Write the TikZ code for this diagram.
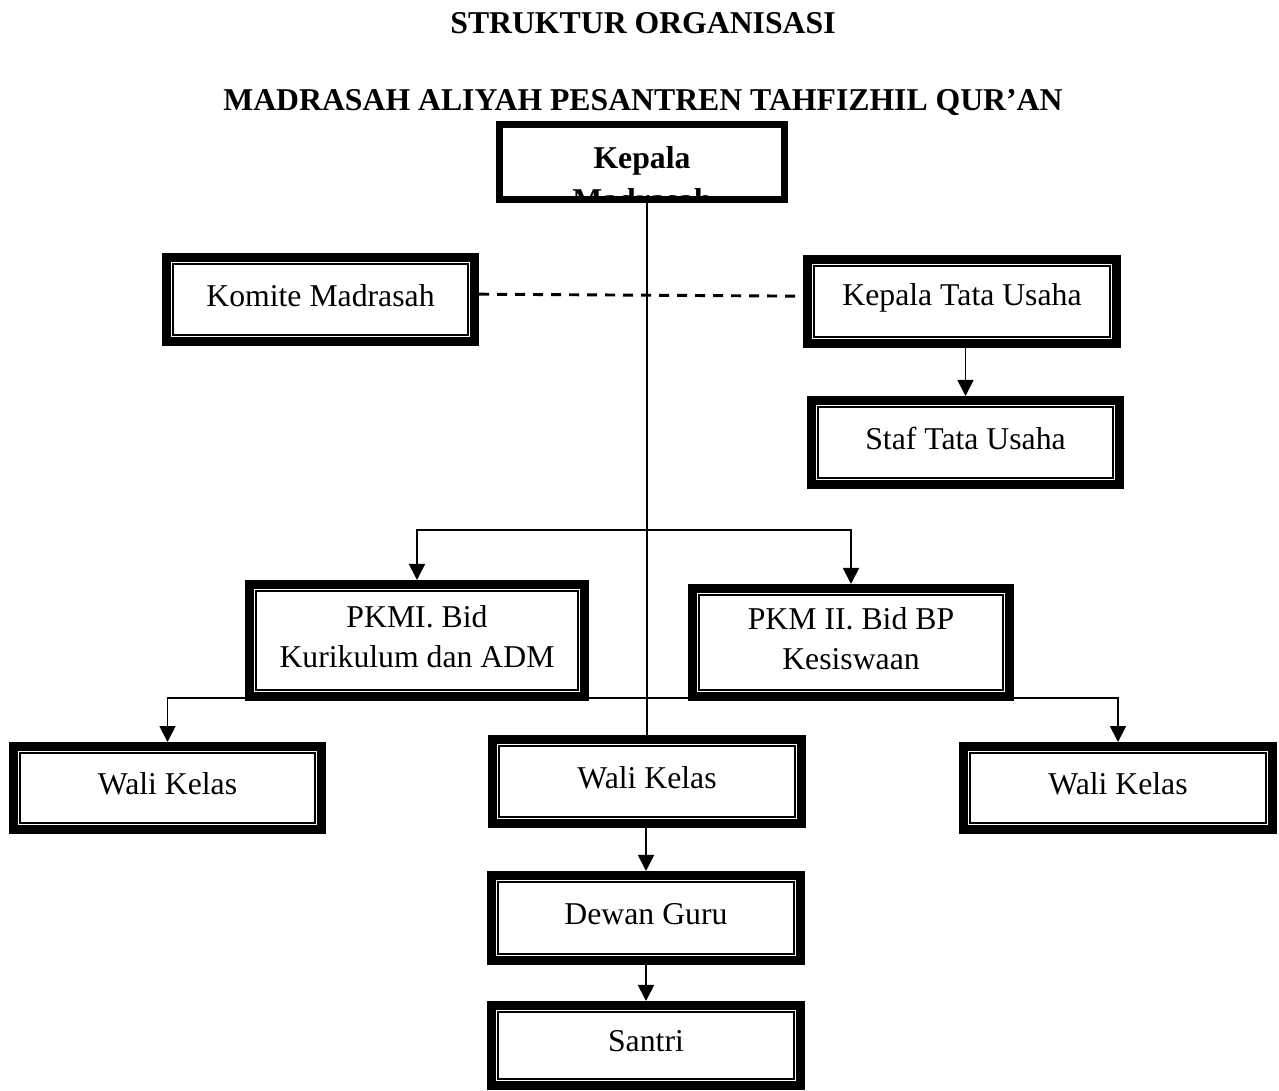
\documentclass[tikz,border=0pt]{standalone}
\usepackage{fontspec}
\setmainfont{Liberation Serif}
\usetikzlibrary{arrows.meta,calc}
\tikzset{
  outerbox/.style={draw, line width=6.4pt, fill=white, inner sep=0pt},
  innerbox/.style={draw, line width=1.9pt, inner sep=0pt},
  boxtext/.style={align=center, inner sep=0pt, font=\fontsize{23.8}{29.5}\selectfont},
  titletext/.style={anchor=base, inner sep=0pt, font=\fontsize{23.8}{29}\selectfont\bfseries},
  conn/.style={line width=1.3pt},
  arr/.style={conn, -{Triangle[width=12pt,length=12pt]}},
  dashline/.style={line width=2.2pt, dash pattern=on 7.5pt off 6pt}
}
\newcommand{\orgbox}[6]{%
  \node[outerbox, minimum width={0.75pt*(#4-#2-8.5)}, minimum height={0.75pt*(#5-#3-8.5)}] (#1) at ({(#2+#4)/2},{(#3+#5)/2}) {};
  \node[innerbox, minimum width={0.75pt*(#4-#2-22)}, minimum height={0.75pt*(#5-#3-22)}] (#1-in) at (#1.center) {};
  \node[boxtext] (#1-t) at ([yshift=3pt]#1.center) {#6};
}
\begin{document}
\begin{tikzpicture}[x=0.75pt,y=-0.75pt]
\useasboundingbox (0,0) rectangle (1279,1090);
% titles
\node[titletext] (t1) at (643,33) {STRUKTUR ORGANISASI};
\node[titletext] (t2) at (643,110) {MADRASAH ALIYAH PESANTREN TAHFIZHIL QUR’AN};
% junction coordinates
\coordinate (bj) at (647,530);
\coordinate (bk) at (647,698);
% Kepala Madrasah text, clipped by its box
\begin{scope}
  \clip (500,125) rectangle (784,196);
  \node[titletext] (kepala-t1) at (642,168) {Kepala};
  \node[titletext] (kepala-t2) at (642,210) {Madrasah};
\end{scope}
\node[draw, line width=5.25pt, inner sep=0pt, minimum width={0.75pt*285}, minimum height={0.75pt*75}] (kepala) at (642,162) {};
% boxes first row
\orgbox{komite}{162}{253}{479}{346}{Komite Madrasah}
\orgbox{ktu}{803}{255}{1121}{348}{Kepala Tata Usaha}
\orgbox{staf}{807}{396}{1124}{489}{Staf Tata Usaha}
% bottom line (under PKM boxes)
\draw[arr] (bk) -| (167.5,742);
\draw[arr] (bk) -| (1118,742);
\orgbox{pkm1}{245}{580}{589}{701}{PKMI. Bid\\Kurikulum dan ADM}
\orgbox{pkm2}{688}{584}{1014}{701}{PKM II. Bid BP\\Kesiswaan}
\orgbox{wl}{9}{742}{326}{834}{Wali Kelas}
\orgbox{wc}{488}{735}{806}{828}{Wali Kelas}
\orgbox{wr}{959}{742}{1277}{834}{Wali Kelas}
\orgbox{dg}{487}{871}{805}{965}{Dewan Guru}
\orgbox{santri}{487}{1001}{805}{1090}{Santri}
% connectors
\draw[conn] (wc.north |- kepala.south) -- (wc.north);
\draw[dashline] ([yshift=4pt]komite.east) -- ([yshift=4pt]ktu.west);
\draw[arr] (staf.north |- ktu.south) -- (staf.north);
\draw[arr] (bj) -| (pkm1.north);
\draw[arr] (bj) -| (pkm2.north);
\draw[arr] (dg.north |- wc.south) -- (dg.north);
\draw[arr] (dg.south) -- (santri.north);
\end{tikzpicture}
\end{document}
